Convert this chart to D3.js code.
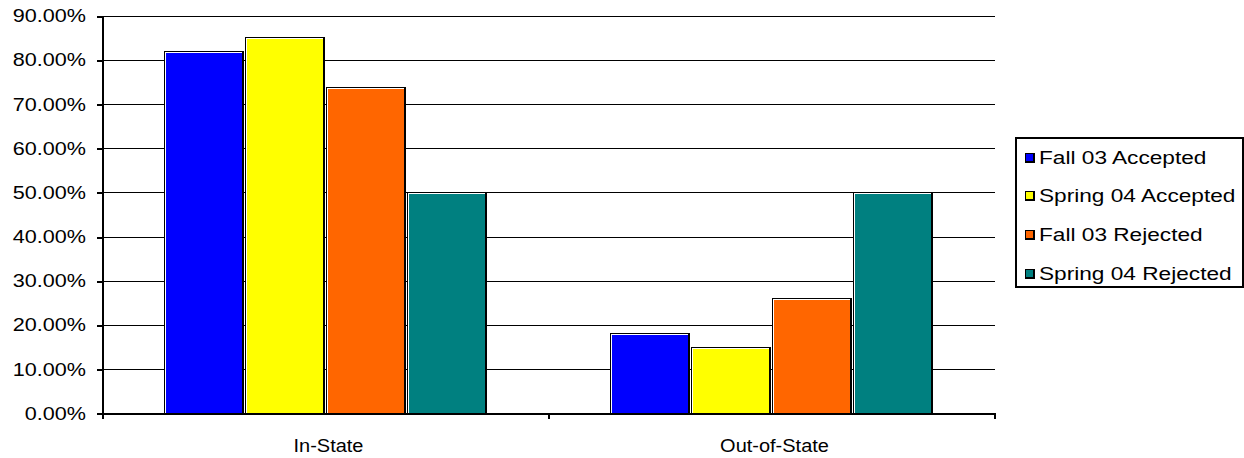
<!DOCTYPE html>
<html><head><meta charset="utf-8">
<script src="https://cdn.jsdelivr.net/npm/d3@7"></script>
<style>body{margin:0;background:#fff}svg{display:block}text{font-family:"Liberation Sans",Arial,sans-serif;fill:#000}</style>
</head><body><svg id="c" width="1244" height="458"></svg>
<script>
const categories = ["In-State", "Out-of-State"];
const seriesNames = ["Fall 03 Accepted", "Spring 04 Accepted", "Fall 03 Rejected", "Spring 04 Rejected"];
const seriesColors = ["#0000ff", "#ffff00", "#ff6600", "#008080"];
const fall03Accepted = [81.9, 18.1];
const spring04Accepted = [85.1, 14.9];
const fall03Rejected = [73.8, 26.2];
const spring04Rejected = [50.0, 50.0];
const yTicks = [0, 10, 20, 30, 40, 50, 60, 70, 80, 90];

const seriesValues = [fall03Accepted, spring04Accepted, fall03Rejected, spring04Rejected];
const svg = d3.select("#c").attr("shape-rendering", "crispEdges");
const L = 103, R = 995, T = 15.7, B = 413.3;
const y = d3.scaleLinear().domain([0, 90]).range([B, T]);
const x0 = d3.scaleBand().domain(categories).range([L, R]);
const gapFrac = 1.5 / 5.5;
const x1 = d3.scaleBand().domain(d3.range(4))
  .range([x0.bandwidth() * gapFrac / 2, x0.bandwidth() * (1 - gapFrac / 2)]).padding(0);

// gridlines
svg.append("g").selectAll("line").data(yTicks.filter(d => d > 0)).join("line")
  .attr("x1", L).attr("x2", R).attr("y1", d => Math.round(y(d)) + 0.5).attr("y2", d => Math.round(y(d)) + 0.5)
  .attr("stroke", "#000").attr("stroke-width", 1);

// bars
const data = [];
categories.forEach((c, ci) => seriesValues.forEach((s, si) => data.push({c, si, v: s[ci]})));
const g = svg.append("g");
const base = Math.round(B);
data.forEach(d => {
  const bx = Math.round(x0(d.c) + x1(d.si));
  const bx2 = Math.round(x0(d.c) + x1(d.si) + x1.bandwidth()) - 1;
  const top = Math.round(y(d.v));
  const bw = bx2 - bx, h = base - top;
  g.append("rect").attr("x", bx).attr("y", top).attr("width", bw).attr("height", h).attr("fill", "#000");
  g.append("rect").attr("x", bx + 1).attr("y", top + 1).attr("width", bw - 3).attr("height", h - 1).attr("fill", "#fff");
  g.append("rect").attr("x", bx + 2).attr("y", top + 2).attr("width", bw - 4).attr("height", h - 2).attr("fill", seriesColors[d.si]);
});

// axes
const yAxis = svg.append("g");
yAxis.append("rect").attr("x", L - 1).attr("y", T).attr("width", 2).attr("height", 419 - T).attr("fill", "#000");
yAxis.selectAll("rect.t").data(yTicks).join("rect").attr("class", "t")
  .attr("x", 97).attr("width", L - 97).attr("y", d => Math.round(y(d))).attr("height", 1.5)
  .attr("fill", "#000");
yAxis.selectAll("text").data(yTicks).join("text")
  .attr("transform", d => `translate(86,${y(d)}) scale(1.2,1)`)
  .attr("text-anchor", "end").attr("dy", "0.36em").attr("font-size", "18px")
  .text(d => d3.format(".2f")(d) + "%");

const xAxis = svg.append("g");
xAxis.append("rect").attr("x", L - 1).attr("y", base - 0.5).attr("width", R - L + 1).attr("height", 2).attr("fill", "#000");
const xTickPos = [L].concat(categories.map(c => x0(c) + x0.bandwidth()));
xAxis.selectAll("rect.t").data(xTickPos).join("rect").attr("class", "t")
  .attr("x", d => Math.round(d) - 1).attr("width", 1.5).attr("y", base).attr("height", 6).attr("fill", "#000");
xAxis.selectAll("text").data(categories).join("text")
  .attr("transform", c => `translate(${x0(c) + x0.bandwidth() / 2 + 2.5},451.7) scale(1.08,1)`)
  .attr("text-anchor", "middle").attr("font-size", "18.5px").text(c => c);

// legend
const lg = svg.append("g");
lg.append("rect").attr("x", 1015.5).attr("y", 137.5).attr("width", 227).attr("height", 149)
  .attr("fill", "#fff").attr("stroke", "#000").attr("stroke-width", 2);
seriesNames.forEach((n, i) => {
  const cy = 157 + i * 38.7;
  lg.append("rect").attr("x", 1025.5).attr("y", Math.round(cy - 4.5) + 0.5).attr("width", 8.5).attr("height", 8.5)
    .attr("fill", seriesColors[i]).attr("stroke", "#000").attr("stroke-width", 1.3);
  lg.append("text").attr("transform", `translate(1039,${cy}) scale(1.225,1)`)
    .attr("dy", "0.36em").attr("font-size", "18.5px").text(n);
});
</script></body></html>
